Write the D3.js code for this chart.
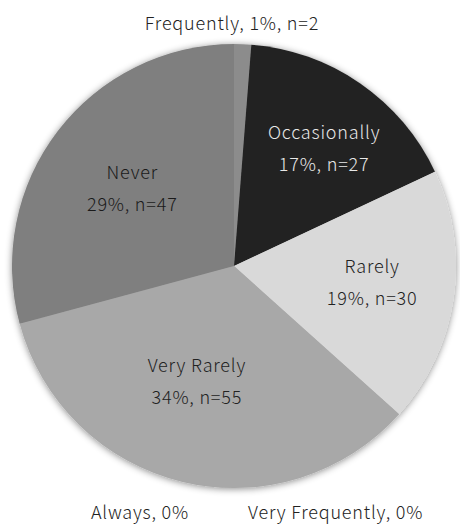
<!DOCTYPE html>
<html>
<head>
<meta charset="utf-8">
<script src="https://cdn.jsdelivr.net/npm/d3@7"></script>
<style>
  body { margin: 0; background: #fff; }
  svg text { font-family: "Noto Sans CJK JP", "Noto Sans", sans-serif; font-size: 18px; font-weight: 300; letter-spacing: 0.8px; }
</style>
</head>
<body>
<div id="chart"></div>
<script>
const width = 460,
    height = 524

const categories = ["Frequently", "Occasionally", "Rarely", "Very Rarely", "Never", "Always", "Very Frequently"]
const counts = [2, 27, 30, 55, 47, 0, 0]

const colors = {
    "Frequently": "#8c8c8c",
    "Occasionally": "#222222",
    "Rarely": "#d9d9d9",
    "Very Rarely": "#a8a8a8",
    "Never": "#7f7f7f",
    "Always": "#555",
    "Very Frequently": "#555"
}
const textColors = {
    "Occasionally": "#e8e8e8",
    "Never": "#1a1a1a"
}
// where each inside label sits: fraction of radius, angle nudge (deg)
const labelPos = {
    "Occasionally": [0.68, 2],
    "Rarely": [0.625, -3],
    "Very Rarely": [0.53, 5],
    "Never": [0.585, 1]
}

const cx = 234, cy = 266, radius = 222
const total = d3.sum(counts)
const data = categories.map((c, i) => ({ name: c, value: counts[i] }))
const pct = v => Math.round(v / total * 100) + "%"

const svg = d3.select("#chart")
    .append("svg")
        .attr("width", width)
        .attr("height", height)

const defs = svg.append("defs")
defs.append("filter")
    .attr("id", "shadow")
    .attr("x", "-10%").attr("y", "-10%")
    .attr("width", "120%").attr("height", "120%")
  .append("feDropShadow")
    .attr("dx", 0).attr("dy", 1)
    .attr("stdDeviation", 3.5)
    .attr("flood-color", "#000")
    .attr("flood-opacity", 0.45)

const pie = d3.pie().sort(null).value(d => d.value)
const arc = d3.arc().innerRadius(0).outerRadius(radius)
const arcs = pie(data)

const g = svg.append("g").attr("transform", `translate(${cx},${cy})`)

g.append("g")
    .attr("filter", "url(#shadow)")
  .selectAll("path")
  .data(arcs.filter(d => d.value > 0))
  .enter()
  .append("path")
    .attr("d", arc)
    .attr("fill", d => colors[d.data.name])

// labels inside the bigger slices
const inside = arcs.filter(d => labelPos[d.data.name])
const lab = g.selectAll("g.lab")
    .data(inside)
    .enter()
    .append("g")
    .attr("class", "lab")
    .attr("transform", d => {
        const [f, nudge] = labelPos[d.data.name]
        const a = (d.startAngle + d.endAngle) / 2 + nudge * Math.PI / 180
        return `translate(${Math.sin(a) * radius * f},${-Math.cos(a) * radius * f})`
    })
    .attr("fill", d => textColors[d.data.name] || "#222")
    .attr("text-anchor", "middle")

lab.append("text")
    .attr("y", -6)
    .text(d => d.data.name)
lab.append("text")
    .attr("y", 26)
    .text(d => pct(d.value) + ", n=" + d.value)

// small slice, label outside on top
const small = arcs.filter(d => d.value > 0 && !labelPos[d.data.name])
g.selectAll("text.small")
    .data(small)
    .enter()
    .append("text")
    .attr("class", "small")
    .attr("x", -2)
    .attr("y", -radius - 14)
    .attr("text-anchor", "middle")
    .attr("fill", "#222")
    .text(d => d.data.name + ", " + pct(d.value) + ", n=" + d.value)

// empty categories, labelled under the pie
const zero = arcs.filter(d => d.value === 0)
g.selectAll("text.zero")
    .data(zero)
    .enter()
    .append("text")
    .attr("class", "zero")
    .attr("x", (d, i) => i === 0 ? -45 : 14)
    .attr("y", radius + 31)
    .attr("text-anchor", (d, i) => i === 0 ? "end" : "start")
    .attr("fill", "#222")
    .text(d => d.data.name + ", " + pct(d.value))
</script>
</body>
</html>
